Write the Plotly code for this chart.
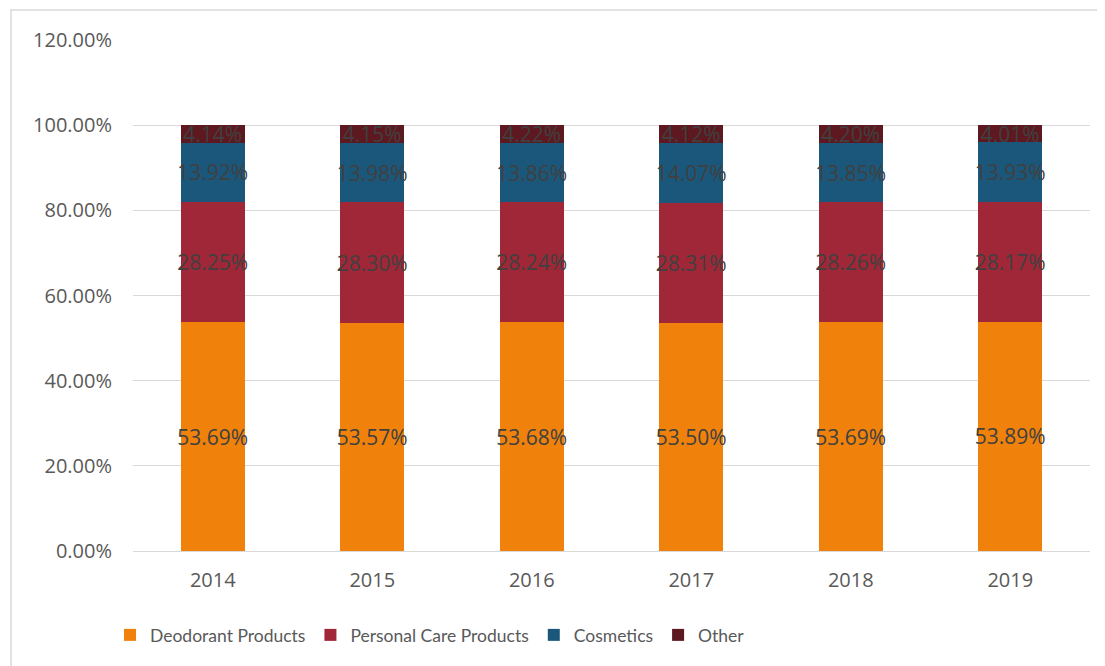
import plotly.graph_objects as go

years = ["2014", "2015", "2016", "2017", "2018", "2019"]
deodorant = [53.69, 53.57, 53.68, 53.50, 53.69, 53.89]
personal = [28.25, 28.30, 28.24, 28.31, 28.26, 28.17]
cosmetics = [13.92, 13.98, 13.86, 14.07, 13.85, 13.93]
other = [4.14, 4.15, 4.22, 4.12, 4.20, 4.01]

series = [
    ("Deodorant Products", deodorant, "#F0820C"),
    ("Personal Care Products", personal, "#A02737"),
    ("Cosmetics", cosmetics, "#1B577B"),
    ("Other", other, "#5E1820"),
]

num_font = "'Open Sans', sans-serif"
leg_font = "Lato, 'Open Sans', sans-serif"

# page is offset by 8px body margin; figure sized to fit
W, H = 1097, 658
L, R, T, B = 125, 15, 32, 115
PW, PH = W - L - R, H - T - B

fig = go.Figure()
for name, vals, color in series:
    fig.add_trace(go.Bar(
        x=years, y=vals, name=name,
        marker=dict(color=color, line=dict(width=0)),
        text=[f"{v:.2f}%" for v in vals],
        textposition="inside",
        insidetextanchor="middle",
        constraintext="none",
        textangle=0,
        textfont=dict(color="#404040", size=21, family=num_font),
        hoverinfo="skip",
    ))

fig.update_layout(
    barmode="stack",
    bargap=0.6,
    width=W, height=H,
    margin=dict(l=L, r=R, t=T, b=B, pad=0),
    paper_bgcolor="white",
    plot_bgcolor="white",
    font=dict(family=num_font, color="#595959", size=20),
    legend=dict(
        orientation="h", x=(430 - 133) / PW, xanchor="center",
        y=(543 - 627) / PH, yanchor="middle",
        font=dict(size=17.5, color="#595959", family=leg_font), traceorder="normal",
        itemwidth=30,
    ),
    xaxis=dict(showgrid=False, showline=True, linecolor="#D9D9D9", linewidth=1,
               ticks="", tickfont=dict(size=20, color="#595959"),
               ticklabelstandoff=11),
    yaxis=dict(range=[0, 120], dtick=20, showgrid=True, gridcolor="#D9D9D9",
               gridwidth=1, zeroline=False, ticksuffix="%", tickformat=".2f",
               tickfont=dict(size=20, color="#595959"), ticklabelstandoff=20),
    shapes=[dict(type="rect", xref="paper", yref="paper",
                 x0=(11 - 133) / PW, x1=1.3,
                 y0=-0.5, y1=(551 - 10) / PH,
                 line=dict(color="#D9D9D9", width=1.5), fillcolor="rgba(0,0,0,0)",
                 layer="below")],
)

fig.write_html("out.html")
